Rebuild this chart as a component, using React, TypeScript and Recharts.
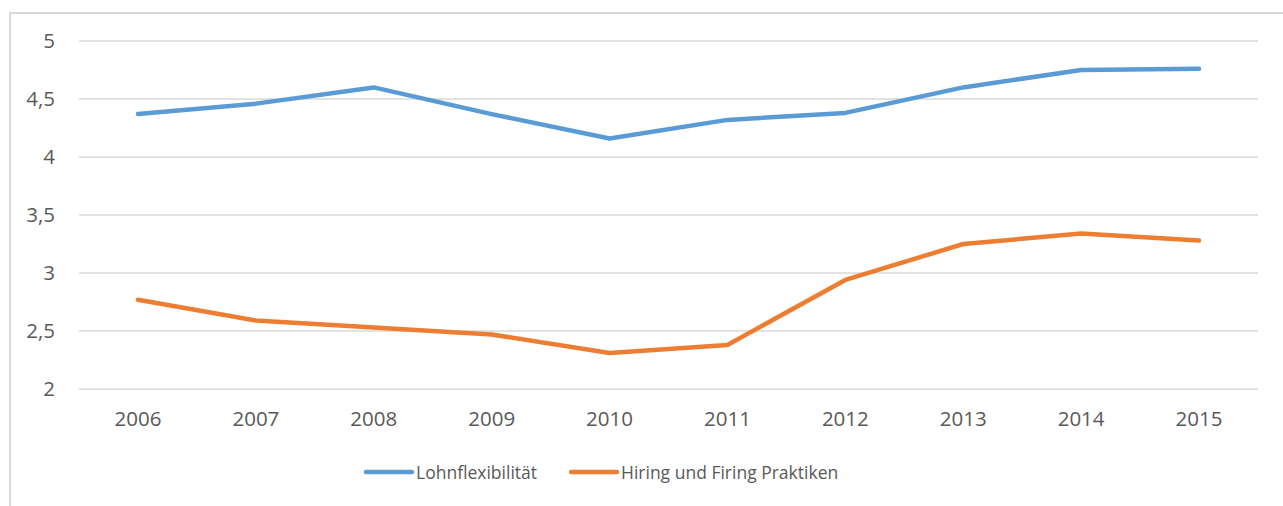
import { LineChart, Line, XAxis, YAxis, CartesianGrid, Legend } from 'recharts'

const years = ['2006', '2007', '2008', '2009', '2010', '2011', '2012', '2013', '2014', '2015']
const lohnflexibilitaet = [4.37, 4.46, 4.6, 4.37, 4.16, 4.32, 4.38, 4.6, 4.75, 4.76]
const hiringFiring = [2.77, 2.59, 2.53, 2.47, 2.31, 2.38, 2.94, 3.25, 3.34, 3.28]
const yTicks = [2, 2.5, 3, 3.5, 4, 4.5, 5]

const seriesNames = ['Lohnflexibilität', 'Hiring und Firing Praktiken']
const seriesColors = ['#5B9BD5', '#ED7D31']

const data = years.map((year, i) => ({
  year,
  [seriesNames[0]]: lohnflexibilitaet[i],
  [seriesNames[1]]: hiringFiring[i],
}))

const FONT = '"Open Sans", sans-serif'
const TEXT = '#595959'

function LegendContent() {
  return (
    <div style={{ display: 'flex', paddingLeft: 364, fontFamily: FONT, fontSize: 17.5, color: TEXT }}>
      {seriesNames.map((name, i) => (
        <div key={name} style={{ display: 'flex', alignItems: 'center', marginRight: i === 0 ? 32 : 0 }}>
          <svg width={50} height={10} style={{ marginRight: 2 }}>
            <line x1={2} y1={5} x2={48} y2={5} stroke={seriesColors[i]} strokeWidth={4.5} strokeLinecap="round" />
          </svg>
          <span>{name}</span>
        </div>
      ))}
    </div>
  )
}

export default function App() {
  return (
    <div style={{ position: 'absolute', left: 0, top: 0, width: 1283, height: 506, overflow: 'hidden', background: '#fff' }}>
      <div
        style={{
          position: 'absolute', left: 9, top: 12, width: 1400, height: 600,
          border: '2px solid #d9d9d9', boxSizing: 'border-box',
        }}
      />
      <div style={{ position: 'absolute', left: 0, top: 0 }}>
        <LineChart width={1283} height={506} data={data} margin={{ top: 41, right: 25, bottom: 0, left: 0 }}>
          <CartesianGrid vertical={false} stroke="#d9d9d9" strokeWidth={1.3} />
          <XAxis
            dataKey="year"
            axisLine={false}
            tickLine={false}
            height={117}
            padding={{ left: 59, right: 59 }}
            tickMargin={16}
            tick={{ fill: TEXT, fontSize: 20.5, fontFamily: FONT }}
          />
          <YAxis
            domain={[2, 5]}
            ticks={yTicks}
            width={79}
            axisLine={false}
            tickLine={false}
            tickMargin={18}
            tickFormatter={v => String(v).replace('.', ',')}
            tick={{ fill: TEXT, fontSize: 20.5, fontFamily: FONT }}
          />
          <Legend
            verticalAlign="middle"
            align="center"
            content={<LegendContent />}
            wrapperStyle={{ top: 460, left: 0, width: 1283 }}
          />
          {seriesNames.map((name, i) => (
            <Line
              key={name}
              type="linear"
              dataKey={name}
              stroke={seriesColors[i]}
              strokeWidth={4.5}
              strokeLinecap="round"
              strokeLinejoin="round"
              dot={false}
              activeDot={false}
              isAnimationActive={false}
            />
          ))}
        </LineChart>
      </div>
    </div>
  )
}
